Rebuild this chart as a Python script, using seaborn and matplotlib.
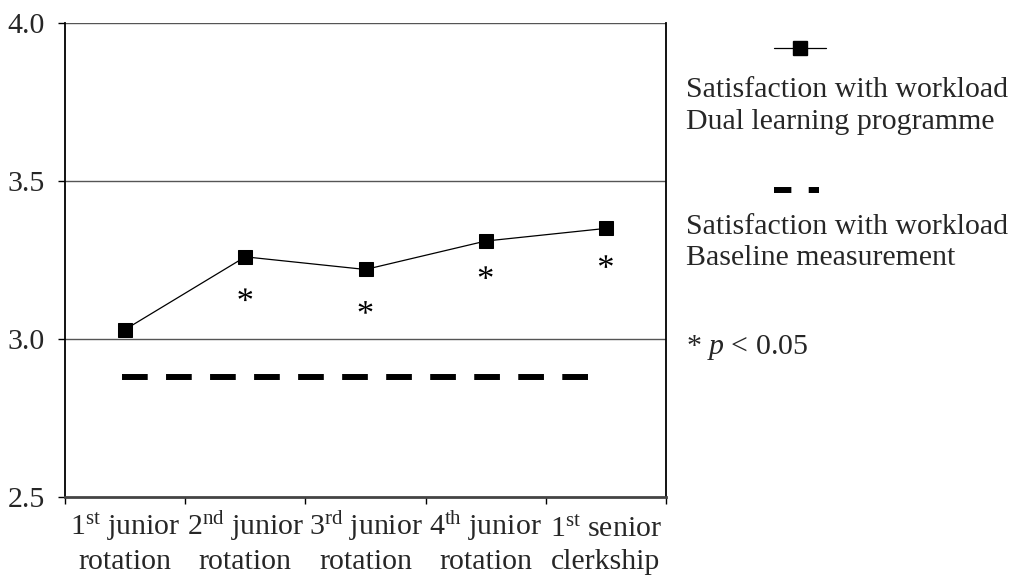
import matplotlib
matplotlib.use("Agg")
import matplotlib.pyplot as plt
import seaborn as sns
import pandas as pd
from matplotlib.lines import Line2D

categories = ["1$^{\\mathrm{st}}$ junior\nrotation", "2$^{\\mathrm{nd}}$ junior\nrotation",
              "3$^{\\mathrm{rd}}$ junior\nrotation", "4$^{\\mathrm{th}}$ junior\nrotation",
              "1$^{\\mathrm{st}}$ senior\nclerkship"]
dual_values = [3.03, 3.26, 3.22, 3.31, 3.35]
baseline_value = 2.88
significant = [False, True, True, True, True]
asterisk_y = [None, 3.14, 3.10, 3.21, 3.245]
y_ticks = [2.5, 3.0, 3.5, 4.0]

sns.set_theme(style="white")
plt.rcParams['font.family'] = ['Liberation Serif', 'DejaVu Serif']
plt.rcParams['mathtext.fontset'] = 'custom'
plt.rcParams['mathtext.rm'] = 'Liberation Serif'
plt.rcParams['mathtext.it'] = 'Liberation Serif:italic'
plt.rcParams['lines.scale_dashes'] = False

FS = 21.5
fig = plt.figure(figsize=(10.21, 5.82), dpi=100)
ax = fig.add_axes([65/1021, 1-497/582, (666-65)/1021, (497-23)/582])

pos = list(range(len(categories)))
df = pd.DataFrame({"pos": pos, "value": dual_values})
dfb = pd.DataFrame({"pos": pos, "value": [baseline_value]*len(categories)})
dfa = pd.DataFrame({"pos": [p for p, s in zip(pos, significant) if s],
                    "value": [a for a, s in zip(asterisk_y, significant) if s]})

sns.lineplot(data=dfb, x="pos", y="value", ax=ax, color="black", linewidth=4.3,
             dashes=False, zorder=3)
base_line = ax.lines[-1]
base_line.set_dashes([14.2, 17.5])
base_line.set_dash_capstyle('projecting')
sns.lineplot(data=df, x="pos", y="value", ax=ax, color="black", linewidth=0.9,
             marker="s", markersize=9.5, markeredgecolor="black", zorder=4)
sns.scatterplot(data=dfa, x="pos", y="value", ax=ax, marker="$*$", s=100,
                color="black", edgecolor="none", linewidth=0, zorder=4)

ax.set_xlim(-0.5, len(categories)-0.5)
ax.set_ylim(2.5, 4.0)
ax.set_yticks(y_ticks)
ax.set_yticklabels([f"{v:.1f}" for v in y_ticks], fontsize=FS)
ax.set_xticks(pos)
ax.set_xticklabels(categories, fontsize=FS, linespacing=1.3, va="baseline")
ax.set_xticks([p - 0.5 for p in pos] + [len(categories)-0.5], minor=True)
ax.tick_params(axis='x', which='major', length=0, pad=51.5)
ax.tick_params(axis='x', which='minor', length=5, width=1, color='black', direction='out', bottom=True)
ax.tick_params(axis='y', length=5, width=1, color='black', direction='out', left=True, pad=9.5)
ax.set_xlabel("")
ax.set_ylabel("")

for y in [3.0, 3.5, 4.0]:
    ax.axhline(y, color="#555555", linewidth=1.0, zorder=1)
ax.spines['top'].set_visible(False)
ax.spines['left'].set_color('black')
ax.spines['left'].set_linewidth(1.3)
ax.spines['right'].set_color('black')
ax.spines['right'].set_linewidth(1.3)
ax.spines['bottom'].set_color('#444444')
ax.spines['bottom'].set_linewidth(2.0)

# Legend (manual layout: handle above text)
fw, fh = 1021, 582
def fx(x): return x / fw
def fy(y): return 1 - y / fh
fig.add_artist(Line2D([fx(774), fx(826)], [fy(48), fy(48)], color="black", linewidth=0.9))
fig.add_artist(Line2D([fx(800)], [fy(48)], color="black", marker="s", markersize=9.5, linestyle="none"))
fig.add_artist(Line2D([fx(774), fx(819)], [fy(190), fy(190)], color="black", linewidth=4.3,
                      dashes=[12.5, 12.5], dash_capstyle='butt'))
fig.text(fx(686), fy(106), "Satisfaction with workload\nDual learning programme", fontsize=FS,
         ha="left", va="center", linespacing=1.32)
fig.text(fx(686), fy(242), "Satisfaction with workload\nBaseline measurement", fontsize=FS,
         ha="left", va="center", linespacing=1.25)
fig.text(fx(686), fy(348), "* $p$ < 0.05", fontsize=FS, ha="left", va="center")

fig.savefig("out.png", dpi=100)
